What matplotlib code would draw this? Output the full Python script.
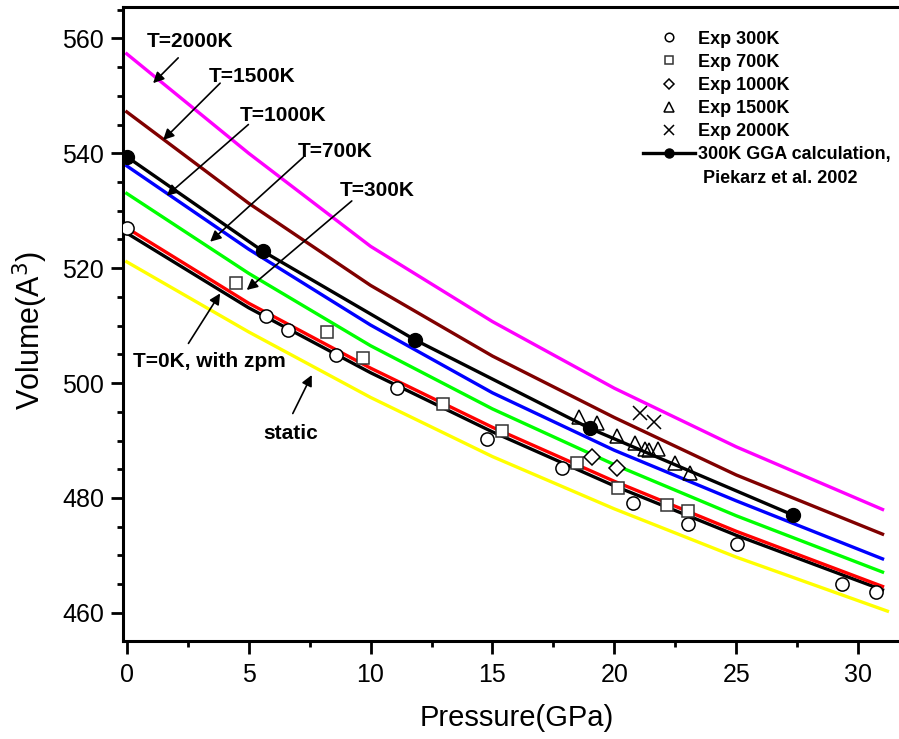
import matplotlib
matplotlib.use("Agg")
import matplotlib.pyplot as plt
from matplotlib.lines import Line2D
from matplotlib.ticker import MultipleLocator

plt.rcParams['font.family'] = ['Liberation Sans', 'DejaVu Sans']

# calculated isotherms
p_curve = [0, 5, 10, 15, 20, 25, 31]
p_static = [0, 5, 10, 15, 20, 25, 31.2]
v_2000 = [557.3, 540.0, 523.8, 510.7, 499.1, 488.9, 478.0]
v_1500 = [547.2, 531.3, 517.0, 504.7, 494.0, 484.0, 473.7]
v_1000 = [537.8, 523.3, 510.1, 498.3, 488.3, 479.5, 469.4]
v_700 = [533.0, 519.1, 506.5, 495.5, 485.8, 476.9, 467.1]
v_300 = [527.0, 513.9, 502.6, 492.3, 482.9, 474.2, 464.6]
v_0k = [526.1, 513.1, 501.8, 491.5, 482.1, 473.5, 464.0]
v_static = [521.1, 508.9, 497.5, 487.2, 478.1, 469.7, 460.3]

# experiments
p_exp300 = [0.0, 5.70, 6.60, 8.58, 11.07, 14.77, 17.84, 20.75, 23.04, 25.02, 29.33, 30.73]
v_exp300 = [527.0, 511.6, 509.2, 504.8, 499.1, 490.2, 485.2, 479.2, 475.5, 472.0, 465.0, 463.7]
p_exp700 = [4.48, 8.20, 9.68, 12.99, 15.38, 18.46, 20.16, 22.15, 23.04]
v_exp700 = [517.4, 508.9, 504.3, 496.3, 491.6, 486.1, 481.7, 478.8, 477.8]
p_exp1000 = [19.07, 20.12]
v_exp1000 = [487.2, 485.3]
p_exp1500 = [18.56, 19.30, 20.10, 20.85, 21.26, 21.44, 21.80, 22.49, 23.11]
v_exp1500 = [494.1, 493.0, 490.8, 489.5, 488.6, 488.3, 488.5, 486.0, 484.3]
p_exp2000 = [21.05, 21.64]
v_exp2000 = [494.7, 493.3]

# GGA 300K, Piekarz et al. 2002
p_gga = [0.0, 5.60, 11.83, 19.0, 27.34]
v_gga = [539.4, 522.9, 507.5, 492.1, 477.0]

fig = plt.figure(figsize=(8.99, 7.39), dpi=100)
ax = fig.add_axes([0.1372, 0.1326, 0.8716, 0.8575])

lw = 2.4
ax.plot(p_curve, v_2000, color='#FF00FF', lw=lw, zorder=2)
ax.plot(p_curve, v_1500, color='#800000', lw=lw, zorder=2)
ax.plot(p_curve, v_1000, color='#0000FF', lw=lw, zorder=2)
ax.plot(p_curve, v_700, color='#00FF00', lw=lw, zorder=2)
ax.plot(p_curve, v_0k, color='black', lw=lw, zorder=2)
ax.plot(p_curve, v_300, color='#FF0000', lw=lw, zorder=2)
ax.plot(p_static, v_static, color='#FFFF00', lw=lw, zorder=2)

ax.plot(p_gga, v_gga, color='black', lw=lw, marker='o', ms=10, mfc='black', mec='black', zorder=3)

ax.plot(p_exp300, v_exp300, 'o', ms=9.5, mfc='white', mec='black', mew=1.1, zorder=4)
ax.plot(p_exp700, v_exp700, 's', ms=8.5, mfc='white', mec='#333333', mew=1.1, zorder=4)
ax.plot(p_exp1000, v_exp1000, 'D', ms=8, mfc='white', mec='black', mew=1.1, zorder=4)
ax.plot(p_exp1500, v_exp1500, '^', ms=10, mfc='none', mec='black', mew=1.1, zorder=4)
ax.plot(p_exp2000, v_exp2000, 'x', ms=10, mec='black', mew=1.1, zorder=4)

# labels with arrows
labels = [
    ("T=2000K", (2.6, 559.4), (2.11, 556.6), (1.08, 552.2)),
    ("T=1500K", (5.12, 553.3), (3.83, 552.2), (1.49, 542.3)),
    ("T=1000K", (6.43, 546.6), (4.99, 545.0), (1.64, 532.6)),
    ("T=700K", (8.54, 540.3), (7.24, 539.3), (3.42, 524.6)),
    ("T=300K", (10.27, 533.5), (9.23, 531.7), (4.92, 516.2)),
    ("T=0K, with zpm", (3.38, 503.8), (2.53, 506.9), (3.83, 515.6)),
    ("static", (6.72, 491.2), (6.81, 494.7), (7.59, 501.4)),
]
for txt, pos, tail, head in labels:
    ax.text(pos[0], pos[1], txt, fontsize=15, fontweight='bold', ha='center', va='center', zorder=6)
    ax.annotate('', xy=head, xytext=tail,
                arrowprops=dict(arrowstyle='-|>', color='black', lw=1.2, mutation_scale=16,
                                shrinkA=0, shrinkB=0), zorder=6)

ax.set_xlim(-0.14, 32.0)
ax.set_ylim(455.1, 565.4)
ax.xaxis.set_major_locator(MultipleLocator(5))
ax.xaxis.set_minor_locator(MultipleLocator(2.5))
ax.yaxis.set_major_locator(MultipleLocator(20))
ax.yaxis.set_minor_locator(MultipleLocator(5))
ax.tick_params(which='major', direction='out', length=9, width=2, labelsize=18)
ax.tick_params(which='minor', direction='out', length=4.5, width=2)
ax.tick_params(axis='x', which='major', pad=7)
ax.tick_params(axis='y', which='major', pad=5)
for s in ax.spines.values():
    s.set_linewidth(2.2)

ax.set_xlabel('Pressure(GPa)', fontsize=21)
ax.set_ylabel('Volume(A$^3$)', fontsize=22)
ax.xaxis.set_label_coords(0.5024, -0.099)
ax.yaxis.set_label_coords(-0.094, 0.49)

handles = [
    Line2D([], [], ls='none', marker='o', ms=9.5, mfc='white', mec='black', mew=1.1),
    Line2D([], [], ls='none', marker='s', ms=8.5, mfc='white', mec='#333333', mew=1.1),
    Line2D([], [], ls='none', marker='D', ms=8, mfc='white', mec='black', mew=1.1),
    Line2D([], [], ls='none', marker='^', ms=10, mfc='none', mec='black', mew=1.1),
    Line2D([], [], ls='none', marker='x', ms=10, mec='black', mew=1.1),
    Line2D([], [], color='black', lw=lw, marker='o', ms=10, mfc='black', mec='black'),
    Line2D([], [], ls='none'),
]
names = ['Exp 300K', 'Exp 700K', 'Exp 1000K', 'Exp 1500K', 'Exp 2000K',
         '300K GGA calculation,', ' Piekarz et al. 2002']
fig.legend(handles, names, loc='upper left', bbox_to_anchor=(0.7152, 0.9585),
           frameon=False, prop={'weight': 'bold', 'size': 13}, markerscale=0.65,
           handlelength=2.9, handletextpad=0.15, labelspacing=0.34, borderpad=0,
           borderaxespad=0)

fig.savefig('out.png', dpi=100)
